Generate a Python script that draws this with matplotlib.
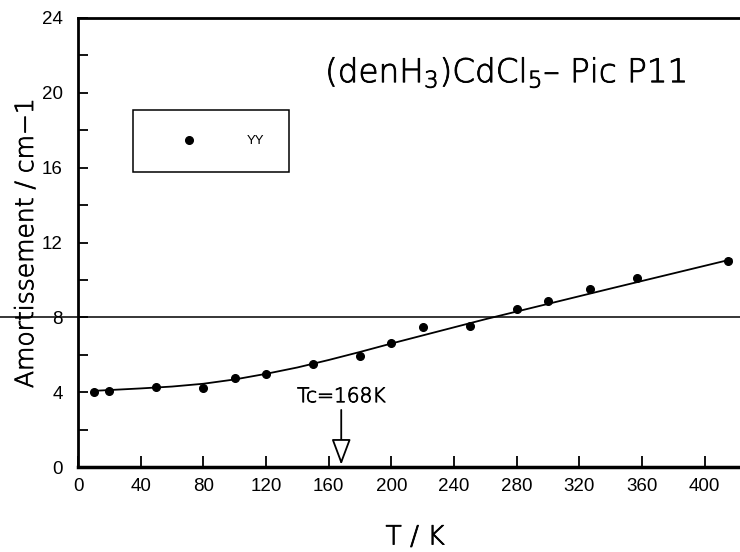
import matplotlib
matplotlib.use('Agg')
import matplotlib.pyplot as plt
import matplotlib.patheffects as pe
from matplotlib.ticker import MultipleLocator

# Points mesurés (YY)
temp = [10, 20, 50, 80, 100, 120, 150, 180, 200, 220, 250, 280, 300, 327, 357, 415]
amort = [3.99, 4.08, 4.29, 4.21, 4.74, 4.97, 5.51, 5.94, 6.61, 7.47, 7.56, 8.43, 8.86, 9.50, 10.12, 11.03]

# Courbe d'ajustement
fit_t = [10, 40, 60, 80, 100, 120, 140, 160, 180, 200, 230, 260, 300, 340, 380, 417]
fit_a = [4.07, 4.20, 4.30, 4.45, 4.68, 4.98, 5.32, 5.72, 6.15, 6.60, 7.25, 7.90, 8.72, 9.54, 10.35, 11.10]

tc = 168
y_ref = 8

plt.rcParams['font.family'] = ['Liberation Sans', 'DejaVu Sans']
plt.rcParams['mathtext.fontset'] = 'custom'
plt.rcParams['mathtext.rm'] = 'DejaVu Sans:light'

fig = plt.figure(figsize=(7.4, 5.52), dpi=100)
ax = fig.add_axes([78 / 740, 1 - 467 / 552, 1 - 78 / 740, (467 - 18) / 552])

ax.plot(fit_t, fit_a, color='black', lw=1.3)
ax.plot(temp, amort, 'o', color='black', ms=5.5, label='YY')
ax.axhline(y_ref, xmin=-78 / 662, xmax=1, color='black', lw=1.1, clip_on=False)

ax.set_xlim(0, 422.5)
ax.set_ylim(0, 24)
ax.xaxis.set_major_locator(MultipleLocator(40))
ax.yaxis.set_major_locator(MultipleLocator(4))
ax.yaxis.set_minor_locator(MultipleLocator(2))
ax.tick_params(which='both', direction='in', width=1.3, labelsize=13.5)
ax.tick_params(axis='y', which='both', length=7, pad=11)
ax.tick_params(axis='x', length=8, pad=8)
ax.spines['right'].set_visible(False)
for s in ['left', 'top']:
    ax.spines[s].set_linewidth(2)
ax.spines['bottom'].set_linewidth(2.5)

# police fine mais noire
lbl = dict(family='DejaVu Sans', weight='light', color='black',
           path_effects=[pe.withStroke(linewidth=0.6, foreground='black')])

# Tc
ax.text(tc, 3.76, 'Tc=168K', ha='center', va='center', fontsize=14.5, **lbl)
ax.annotate('', xy=(tc, 0.12), xytext=(tc, 3.05),
            arrowprops=dict(arrowstyle='-|>,head_length=0.8,head_width=0.3',
                            fc='white', ec='black', lw=1.3,
                            shrinkA=0, shrinkB=0, mutation_scale=20))

leg = ax.legend(loc='upper left', bbox_to_anchor=(133 / 740, 1 - 110 / 552),
                bbox_transform=fig.transFigure, borderaxespad=0,
                fontsize=9.5, borderpad=1.9, handlelength=4.7,
                handletextpad=2.0, fancybox=False, framealpha=1)
leg.get_frame().set_edgecolor('black')
leg.get_frame().set_linewidth(1.1)

fig.text(325 / 740, 1 - 72 / 552, r'(denH$_\mathregular{3}$)CdCl$_\mathregular{5}$– Pic P11',
         ha='left', va='center', fontsize=23.5, **lbl)
fig.text(26 / 740, 1 - 243 / 552, 'Amortissement / cm−1', rotation=90,
         ha='center', va='center', fontsize=18, **lbl)
fig.text(415 / 740, 1 - 537 / 552, 'T / K', ha='center', va='center', fontsize=19, **lbl)

fig.savefig('out.png', dpi=100)
